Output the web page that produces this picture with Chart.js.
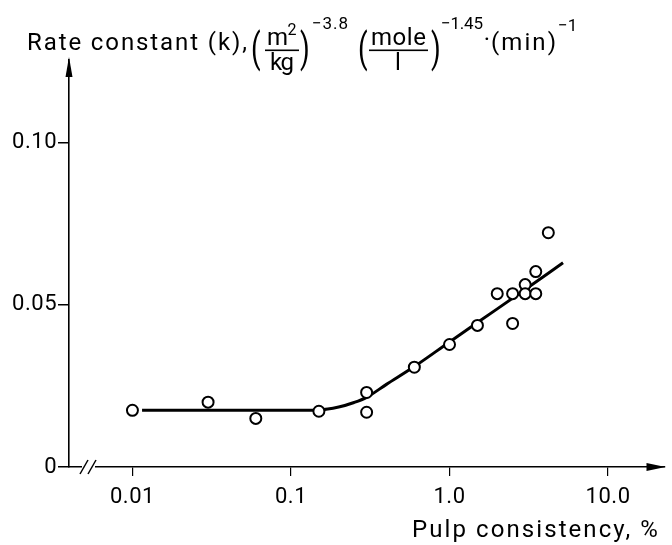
<!DOCTYPE html>
<html>
<head>
<meta charset="utf-8">
<script src="https://cdn.jsdelivr.net/npm/chart.js@4/dist/chart.umd.min.js"></script>
<style>
  html, body { margin: 0; padding: 0; background: #fff; }
  #wrap { width: 672px; height: 545px; }
</style>
</head>
<body>
<div id="wrap"><canvas id="dvCanvas" width="672" height="545"></canvas></div>
<script>
  // measured points: pulp consistency (%) vs rate constant k
  var consistency = [0.01, 0.03, 0.06, 0.15, 0.3, 0.3, 0.6, 1.0, 1.5, 2.0, 2.5, 2.5, 3.0, 3.0, 3.5, 3.5, 4.2];
  var rateK = [0.0175, 0.020, 0.015, 0.0172, 0.023, 0.0169, 0.0308, 0.0378, 0.0437, 0.0535, 0.0535, 0.0443, 0.0563, 0.0535, 0.0535, 0.0603, 0.0723];

  // fitted curve
  var fitX = [0.0115, 0.02, 0.05, 0.1, 0.15, 0.2, 0.25, 0.3, 0.4, 0.6, 1.0, 2.0, 3.0, 5.2];
  var fitY = [0.0175, 0.0175, 0.0175, 0.0175, 0.0176, 0.0185, 0.0199, 0.0215, 0.0255, 0.031, 0.0386, 0.0488, 0.0548, 0.063];

  var xTicks = [0.01, 0.1, 1, 10];
  var xTickLabels = ["0.01", "0.1", "1.0", "10.0"];
  var yTicks = [0, 0.05, 0.1];
  var yTickLabels = ["0", "0.05", "0.10"];

  var xTitle = 'Pulp consistency, %';

  function toXY(xs, ys) {
    return xs.map(function(v, i) { return { x: v, y: ys[i] }; });
  }

  // text spread (letter spacing) to run from x0 to x1
  function fitText(ctx, s, font, x0, x1, y) {
    ctx.font = font;
    ctx.letterSpacing = '0px';
    var mw = ctx.measureText(s).width;
    var ls = (x1 - x0 - mw) / Math.max(1, s.length - 1);
    ctx.letterSpacing = ls.toFixed(2) + 'px';
    ctx.textAlign = 'left';
    ctx.fillText(s, x0, y);
    ctx.letterSpacing = '0px';
  }

  function plainText(ctx, s, font, x, y, align) {
    ctx.font = font;
    ctx.letterSpacing = '0px';
    ctx.textAlign = align || 'left';
    ctx.fillText(s, x, y);
  }

  function paren(ctx, ch, x, y) {
    ctx.save();
    ctx.translate(x, y);
    ctx.scale(0.7, 1);
    ctx.font = '40px Roboto';
    ctx.letterSpacing = '0px';
    ctx.textAlign = 'left';
    ctx.fillText(ch, 0, 0);
    ctx.restore();
  }

  function drawTitle(ctx) {
    var main = '24px Roboto', sup = '17px Roboto';
    ctx.save();
    ctx.fillStyle = '#000';
    ctx.textBaseline = 'alphabetic';
    fitText(ctx, 'Rate constant (k),', main, 27, 247, 50);
    paren(ctx, '(', 251, 62);
    fitText(ctx, 'm', main, 267, 286, 45);
    plainText(ctx, '2', '16px Roboto', 292, 35, 'center');
    ctx.fillRect(265, 49.5, 34, 1.6);
    fitText(ctx, 'kg', main, 270, 294, 70);
    paren(ctx, ')', 300, 62);
    fitText(ctx, '\u22123.8', sup, 312, 348, 29);
    paren(ctx, '(', 358, 62);
    fitText(ctx, 'mole', main, 371, 426, 45);
    ctx.fillRect(369, 49.5, 59, 1.6);
    plainText(ctx, 'l', main, 398, 70, 'center');
    paren(ctx, ')', 431, 62);
    fitText(ctx, '\u22121.45', sup, 441, 483, 29);
    plainText(ctx, '\u00b7', main, 487, 47, 'center');
    fitText(ctx, '(min)', main, 491, 556, 50);
    plainText(ctx, '\u22121', sup, 558, 31);
    ctx.restore();
  }

  var axisDecor = {
    id: 'axisDecor',
    beforeDraw: function(chart) {
      chart.ctx.letterSpacing = '0.5px';
    },
    afterDraw: function(chart) {
      var ctx = chart.ctx, a = chart.chartArea;
      ctx.save();
      ctx.fillStyle = '#000';
      // y arrow
      ctx.beginPath();
      ctx.moveTo(a.left, a.top - 3);
      ctx.lineTo(a.left - 3.5, a.top + 17);
      ctx.lineTo(a.left + 3.5, a.top + 17);
      ctx.closePath();
      ctx.fill();
      // x arrow
      ctx.beginPath();
      ctx.moveTo(a.right + 1, a.bottom);
      ctx.lineTo(a.right - 18, a.bottom - 4);
      ctx.lineTo(a.right - 18, a.bottom + 4);
      ctx.closePath();
      ctx.fill();
      // axis break
      ctx.fillStyle = '#fff';
      ctx.fillRect(a.left + 13, a.bottom - 2, 13, 4);
      ctx.strokeStyle = '#000';
      ctx.lineWidth = 1.5;
      [a.left + 15, a.left + 23].forEach(function(bx) {
        ctx.beginPath();
        ctx.moveTo(bx - 4, a.bottom + 7);
        ctx.lineTo(bx + 4, a.bottom - 7);
        ctx.stroke();
      });
      ctx.fillStyle = '#000';
      ctx.textBaseline = 'alphabetic';
      fitText(ctx, xTitle, '24px Roboto', 412, 658, 537);
      drawTitle(ctx);
      ctx.restore();
    }
  };

  var ctx = document.getElementById('dvCanvas').getContext('2d');
  var myChart = new Chart(ctx, {
    type: 'scatter',
    data: {
      datasets: [
        {
          data: toXY(consistency, rateK),
          showLine: false,
          pointRadius: 5.5,
          pointBorderWidth: 2,
          pointBackgroundColor: '#fff',
          pointBorderColor: '#000',
          order: 1
        },
        {
          data: toXY(fitX, fitY),
          showLine: true,
          pointRadius: 0,
          borderColor: '#000',
          borderWidth: 3,
          cubicInterpolationMode: 'monotone',
          fill: false,
          order: 2
        }
      ]
    },
    options: {
      responsive: false,
      animation: false,
      layout: { padding: { left: 0, top: 60, right: 2, bottom: 0 } },
      plugins: { legend: { display: false }, tooltip: { enabled: false } },
      scales: {
        x: {
          type: 'logarithmic',
          min: 0.00398,
          max: 22.7,
          afterBuildTicks: function(s) { s.ticks = xTicks.map(function(v) { return { value: v }; }); },
          afterFit: function(s) { s.height = 78; },
          grid: { display: true, drawOnChartArea: false, drawTicks: true, tickLength: 9, color: '#000', lineWidth: 1.2 },
          border: { display: true, color: '#000', width: 1.6 },
          ticks: {
            color: '#000',
            font: { family: 'Roboto', size: 22 },
            padding: 8,
            autoSkip: false,
            maxRotation: 0,
            callback: function(v, i) { return xTickLabels[i]; }
          }
        },
        y: {
          min: 0,
          max: 0.1256,
          afterBuildTicks: function(s) { s.ticks = yTicks.map(function(v) { return { value: v }; }); },
          afterFit: function(s) { s.width = 69; },
          grid: { display: true, drawOnChartArea: false, drawTicks: true, tickLength: 11, color: '#000', lineWidth: 1.5 },
          border: { display: true, color: '#000', width: 1.6 },
          ticks: {
            color: '#000',
            font: { family: 'Roboto', size: 22 },
            padding: 1,
            callback: function(v, i) { return yTickLabels[i]; }
          }
        }
      }
    },
    plugins: [axisDecor]
  });
</script>
</body>
</html>
